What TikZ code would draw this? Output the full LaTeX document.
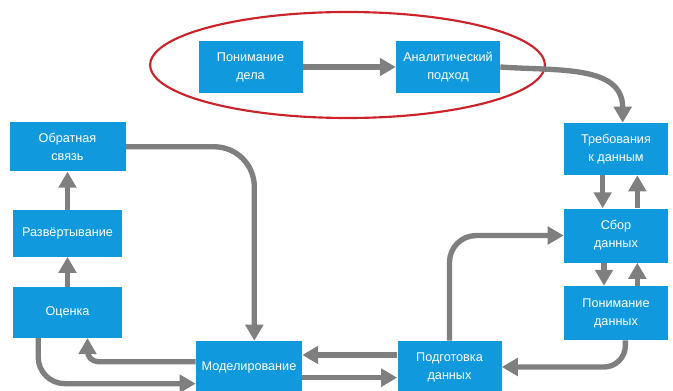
\documentclass[tikz,border=0pt]{standalone}
\usepackage{fontspec}
\setmainfont{Liberation Sans}
\usetikzlibrary{arrows.meta,positioning}
\tikzset{>=latex}
\definecolor{box-color}{HTML}{1199DD}
\definecolor{line-color}{HTML}{7F7F7F}
\definecolor{ring-color}{HTML}{CC2229}

\begin{document}
\begin{tikzpicture}[x=0.75pt, y=-0.75pt,
                every node/.append style={align=center},
                int/.style={fill=box-color, text=white, minimum width=78pt, minimum height=39pt,
                            inner sep=2pt, font=\fontsize{9.5}{13.5}\selectfont},
                flow/.style={draw=line-color, line width=4pt, rounded corners=20pt,
                             -{Triangle[length=12pt,width=13pt]}}]
   \useasboundingbox (0,0) rectangle (673,391);

   % top: business part in the red ring
   \node [int] (biz) at (250.5,67) {Понимание\\дела};
   \node [int, right=69.75pt of biz] (anal) {Аналитический\\подход};
   \draw [ring-color, line width=1.6pt] (347.5,65) ellipse [x radius=148pt, y radius=39.75pt];

   % right column
   \node [int] (req) at (616,149) {Требования\\к данным};
   \node [int, minimum height=40.5pt, below=24.75pt of req] (coll) {Сбор\\данных};
   \node [int, minimum height=40.5pt, below=17.25pt of coll] (und) {Понимание\\данных};

   % bottom
   \node [int] (prep) at (449.5,367) {Подготовка\\данных};
   \node [int, minimum width=79.5pt, left=71.25pt of prep] (model) {Моделирование};

   % left column
   \node [int, minimum width=82pt, minimum height=38pt] (eval) at (67.5,312.5) {Оценка};
   \node [int, minimum width=82pt, minimum height=35pt, above=22.5pt of eval] (dep) {Развёртывание};
   \node [int, minimum width=87pt, minimum height=37pt, above=28.5pt of dep] (fb) {Обратная\\связь};

   \draw [flow] (biz) -- (anal);
   \draw [flow] (anal.east) to[out=-4, in=90, looseness=1.1] ([xshift=5pt]req.north);
   \draw [flow] ([xshift=-10pt]req.south) -- ([xshift=-10pt]req.south |- coll.north);
   \draw [flow] ([xshift=16pt]coll.north) -- ([xshift=16pt]coll.north |- req.south);
   \draw [flow] ([xshift=-9pt]coll.south) -- ([xshift=-9pt]coll.south |- und.north);
   \draw [flow] ([xshift=16pt]und.north) -- ([xshift=16pt]und.north |- coll.south);
   \draw [flow, rounded corners=16pt] ([xshift=7pt]und.south) |- (prep.east);
   \draw [flow] (prep.north) |- (coll.west);
   \draw [flow] ([yshift=9pt]prep.west) -- ([yshift=9pt]prep.west -| model.east);
   \draw [flow] ([yshift=-8pt]model.east) -- ([yshift=-8pt]model.east -| prep.west);
   \draw [flow, rounded corners=30pt] (fb.east) -| ([xshift=4pt]model.north);
   \draw [flow, rounded corners=8pt] ([yshift=4pt]model.west) -| ([xshift=15pt]eval.south);
   \draw [flow] ([xshift=-22pt]eval.south) |- ([yshift=-12.5pt]model.west);
   \draw [flow] (eval) -- (dep);
   \draw [flow] (dep) -- (fb);
\end{tikzpicture}
\end{document}
